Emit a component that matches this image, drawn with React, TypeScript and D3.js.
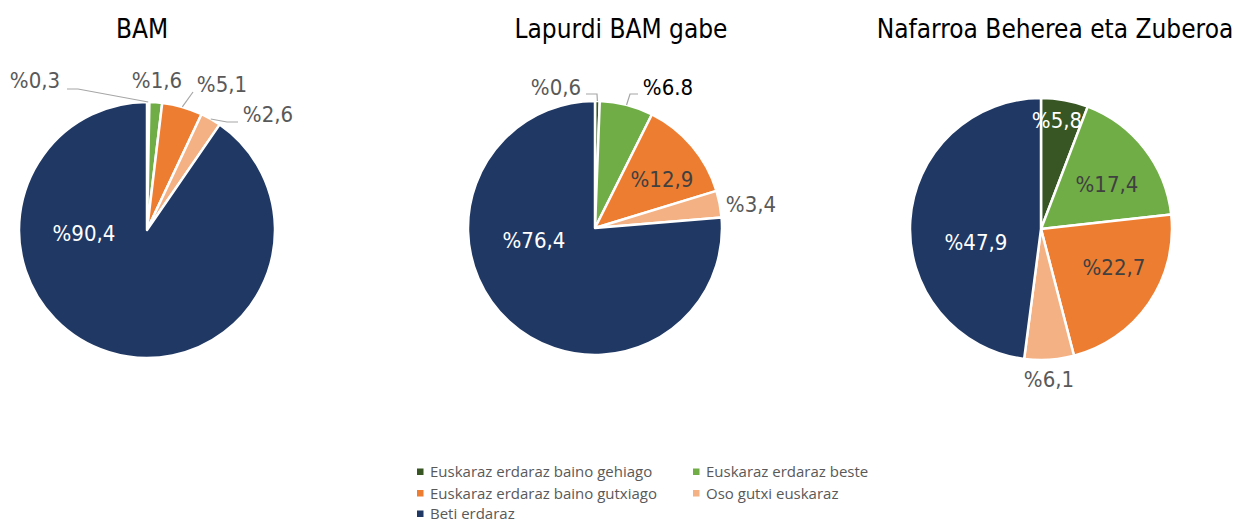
import React from "react";
import * as d3 from "d3";

const categories = [
  "Euskaraz erdaraz baino gehiago",
  "Euskaraz erdaraz beste",
  "Euskaraz erdaraz baino gutxiago",
  "Oso gutxi euskaraz",
  "Beti erdaraz",
];
const colors = ["#375623", "#70AD47", "#ED7D31", "#F4B183", "#203864"];

const titles = ["BAM", "Lapurdi BAM gabe", "Nafarroa Beherea eta Zuberoa"];
const valuesBAM = [0.3, 1.6, 5.1, 2.6, 90.4];
const valuesLapurdi = [0.6, 6.8, 12.9, 3.4, 76.4];
const valuesNafarroa = [5.8, 17.4, 22.7, 6.1, 47.9];
const labelsBAM = ["%0,3", "%1,6", "%5,1", "%2,6", "%90,4"];
const labelsLapurdi = ["%0,6", "%6.8", "%12,9", "%3,4", "%76,4"];
const labelsNafarroa = ["%5,8", "%17,4", "%22,7", "%6,1", "%47,9"];

// layout (positions relative to each pie centre)
type LabelLayout = { dx: number; dy: number; fill: string; leader?: [number, number][] };
const layouts: { cx: number; cy: number; r: number; titleX: number; labels: LabelLayout[] }[] = [
  {
    cx: 147, cy: 230, r: 128, titleX: 142,
    labels: [
      { dx: -112, dy: -142, fill: "#595959", leader: [[-80, -141], [-69, -141]] },
      { dx: 10, dy: -142, fill: "#595959" },
      { dx: 75, dy: -138, fill: "#595959", leader: [[46, -138]] },
      { dx: 121, dy: -108, fill: "#595959", leader: [[91, -108], [80, -108]] },
      { dx: -63, dy: 11, fill: "#FFFFFF" },
    ],
  },
  {
    cx: 595, cy: 228, r: 127, titleX: 621,
    labels: [
      { dx: -39, dy: -133, fill: "#595959", leader: [[-9, -134], [2, -134]] },
      { dx: 73, dy: -133, fill: "#000000", leader: [[43, -134], [35, -134]] },
      { dx: 67, dy: -41, fill: "#404040" },
      { dx: 156, dy: -16, fill: "#595959" },
      { dx: -61, dy: 20, fill: "#FFFFFF" },
    ],
  },
  {
    cx: 1041, cy: 229, r: 131, titleX: 1055,
    labels: [
      { dx: 16, dy: -101, fill: "#FFFFFF" },
      { dx: 66, dy: -37, fill: "#404040" },
      { dx: 73, dy: 46, fill: "#404040" },
      { dx: 8, dy: 158, fill: "#595959" },
      { dx: -65, dy: 21, fill: "#FFFFFF" },
    ],
  },
];

const series = [valuesBAM, valuesLapurdi, valuesNafarroa];
const seriesLabels = [labelsBAM, labelsLapurdi, labelsNafarroa];

const chartFont = "'DejaVu Sans', sans-serif";
const legendFont = "'Open Sans', 'Noto Sans', sans-serif";

function Pie({ idx }: { idx: number }) {
  const lay = layouts[idx];
  const values = series[idx];
  const labels = seriesLabels[idx];
  const pie = d3.pie<number>().sort(null).value((d) => d);
  const arcs = pie(values);
  const arc = d3.arc<d3.PieArcDatum<number>>().innerRadius(0).outerRadius(lay.r);
  return (
    <g>
      <text
        x={lay.titleX}
        y={38}
        textAnchor="middle"
        fontFamily={chartFont}
        style={{ fontStretch: "condensed" }}
        fontSize={26}
        fill="#000"
      >
        {titles[idx]}
      </text>
      <g transform={`translate(${lay.cx},${lay.cy})`}>
        {arcs.map((a, i) => (
          <path key={i} d={arc(a) || ""} fill={colors[i]} stroke="#fff" strokeWidth={2.5} strokeLinejoin="round" />
        ))}
        {arcs.map((a, i) => {
          const l = lay.labels[i];
          if (!l.leader) return null;
          const mid = (a.startAngle + a.endAngle) / 2;
          const px = Math.sin(mid) * lay.r;
          const py = -Math.cos(mid) * lay.r;
          const pts: [number, number][] = [...l.leader, [px, py]];
          return (
            <path key={"l" + i} d={d3.line()(pts) || ""} fill="none" stroke="#A6A6A6" strokeWidth={1.2} />
          );
        })}
        {arcs.map((a, i) => {
          const l = lay.labels[i];
          return (
            <text
              key={"t" + i}
              x={l.dx}
              y={l.dy}
              textAnchor="middle"
              fontFamily={chartFont}
              style={{ fontStretch: "condensed" }}
              fontSize={22}
              fill={l.fill}
            >
              {labels[i]}
            </text>
          );
        })}
      </g>
    </g>
  );
}

export default function App() {
  const legendCols = [417, 693];
  const legendRows = [471.5, 493, 513.5];
  return (
    <svg
      width={1236}
      height={522}
      style={{ position: "absolute", left: 0, top: 0, background: "#fff" }}
    >
      <rect width={1236} height={522} fill="#fff" />
      {series.map((_, i) => (
        <Pie key={i} idx={i} />
      ))}
      <g>
        {categories.map((c, i) => {
          const x = legendCols[i % 2];
          const y = legendRows[Math.floor(i / 2)];
          return (
            <g key={c}>
              <rect x={x} y={y - 3} width={6.5} height={6.5} fill={colors[i]} />
              <text x={x + 13} y={y + 5.5} fontFamily={legendFont} fontSize={15} fill="#595959">
                {c}
              </text>
            </g>
          );
        })}
      </g>
    </svg>
  );
}
